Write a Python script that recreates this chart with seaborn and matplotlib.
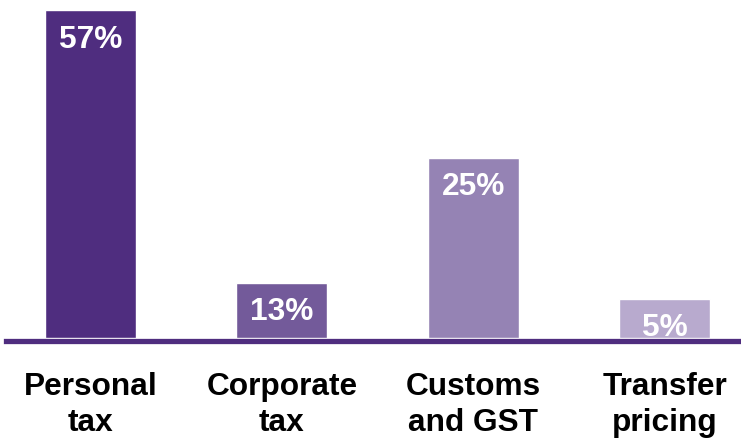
import matplotlib
matplotlib.use("Agg")
import matplotlib.pyplot as plt
import seaborn as sns

categories = ["Personal\ntax", "Corporate\ntax", "Customs\nand GST", "Transfer\npricing"]
bar_heights = [57.0, 9.6, 31.3, 6.8]
value_labels = ["57%", "13%", "25%", "5%"]
colors = ["#4F2D7F", "#735A9A", "#9583B4", "#B8AACE"]

sns.set_theme(style="white")
plt.rcParams["font.family"] = ["Liberation Sans", "DejaVu Sans"]

fig = plt.figure(figsize=(7.41, 4.38), dpi=100)
ax = fig.add_axes([6 / 741, (438 - 341) / 438, 1 - 6 / 741, 341 / 438])

sns.barplot(x=categories, y=bar_heights, hue=categories, palette=colors,
            width=0.475, legend=False, saturation=1, ax=ax)

ax.set_xlim(-0.441, 3.397)
ax.set_ylim(-0.52, 58.74)

for i, (h, lab) in enumerate(zip(bar_heights, value_labels)):
    ax.annotate(lab, xy=(i, h), xytext=(0, -10.5), textcoords="offset points",
                ha="center", va="top", color="white", fontsize=22.8,
                fontweight="bold")

for s in ["top", "right", "left"]:
    ax.spines[s].set_visible(False)
ax.spines["bottom"].set_color("#4F2D7F")
ax.spines["bottom"].set_linewidth(3.8)
ax.spines["bottom"].set_zorder(5)
ax.set_yticks([])
ax.tick_params(axis="x", length=0, pad=22)
for t in ax.get_xticklabels():
    t.set_fontsize(22.8)
    t.set_fontweight("bold")
    t.set_color("black")
    t.set_linespacing(1.3)
ax.set_xlabel("")
ax.set_ylabel("")

fig.savefig("out.png", dpi=100)
